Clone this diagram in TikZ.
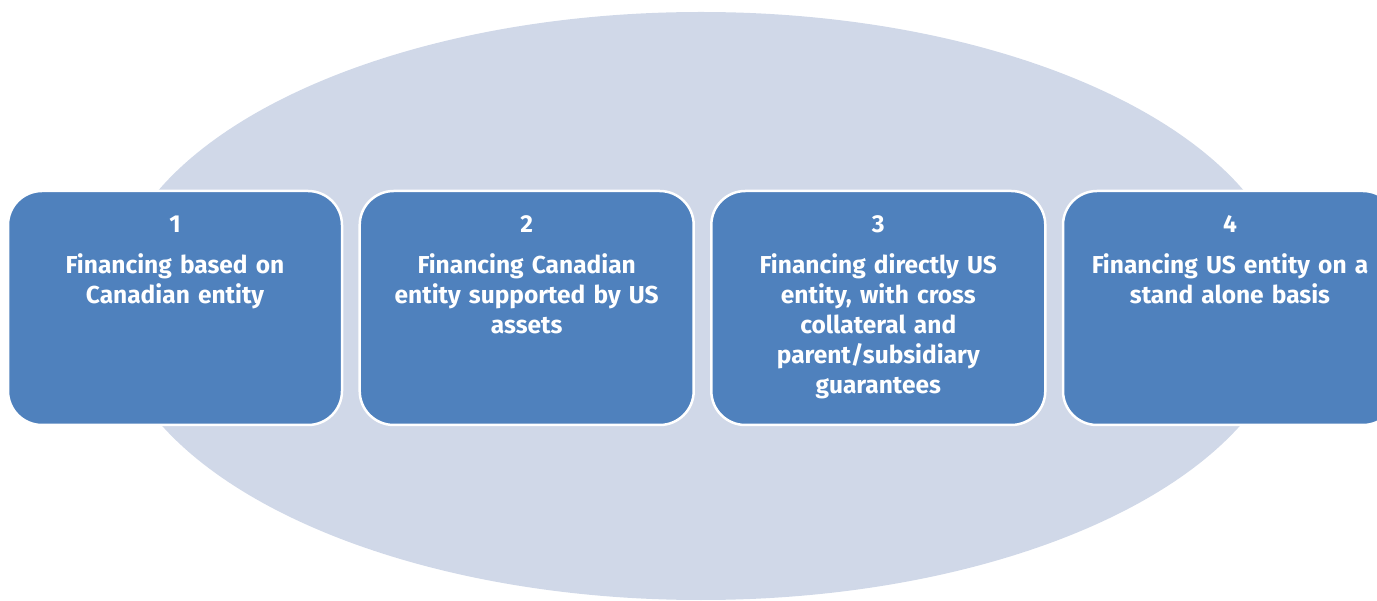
\documentclass[tikz,border=0pt]{standalone}
\usepackage{fontspec}
\setmainfont{Fira Sans}
\usepackage{tikz}
\usetikzlibrary{positioning}
\definecolor{boxblue}{HTML}{4F81BD}
\definecolor{ovalgrey}{HTML}{D0D8E8}

\begin{document}
\begin{tikzpicture}[x=1pt, y=-1pt,
  stage/.style={draw=white, line width=2.5pt, fill=boxblue, rounded corners=34pt,
    minimum width=334pt, minimum height=234pt, inner sep=0pt},
  stagetext/.style={text=white, font=\fontsize{24.5}{30}\selectfont\bfseries,
    align=center, text width=320pt, inner sep=0pt}
  ]
  \useasboundingbox (0,0) rectangle (1377,601);
  \fill[ovalgrey] (701,306) ellipse [x radius=590pt, y radius=294pt];

  \node[stage] (b1) at (175,308) {};
  \node[stage] (b2) at (526.7,308) {};
  \node[stage] (b3) at (878.3,308) {};
  \node[stage] (b4) at (1230,308) {};

  \node[stagetext, below=26pt of b1.north] (t1) {1\\[11pt]Financing based on\\Canadian entity};
  \node[stagetext, below=26pt of b2.north] (t2) {2\\[11pt]Financing Canadian\\entity supported by US\\assets};
  \node[stagetext, below=26pt of b3.north] (t3) {3\\[11pt]Financing directly US\\entity, with cross\\collateral and\\parent/subsidiary\\guarantees};
  \node[stagetext, below=26pt of b4.north] (t4) {4\\[11pt]Financing US entity on a\\stand alone basis};
\end{tikzpicture}
\end{document}
